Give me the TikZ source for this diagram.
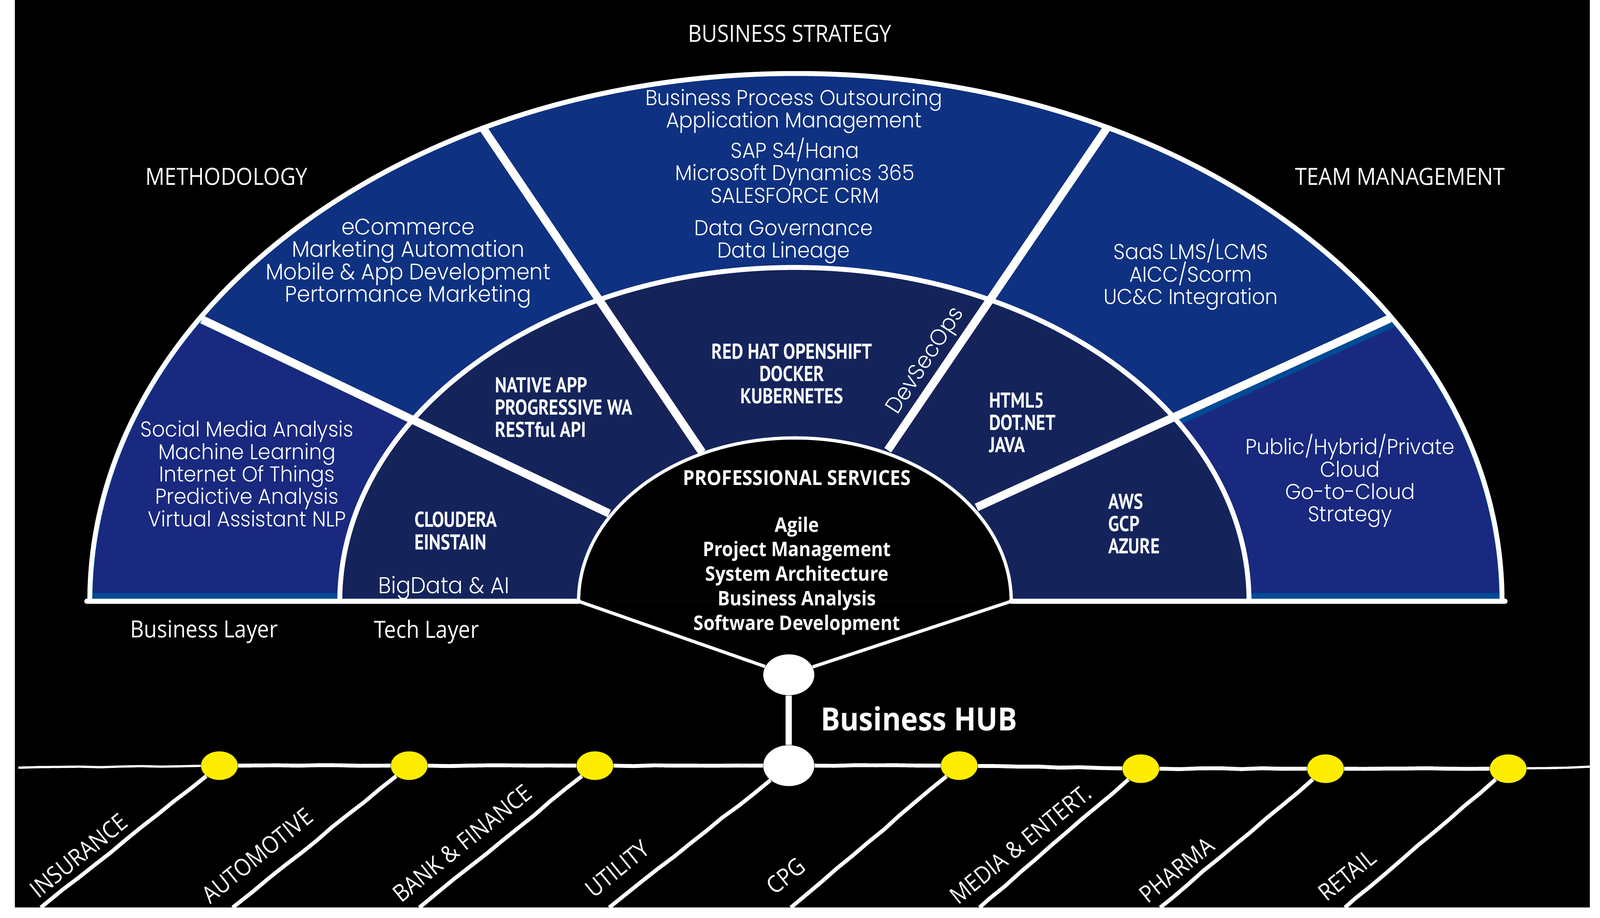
\documentclass[tikz,border=0pt]{standalone}
\usepackage{fontspec}
\usepackage{xcolor}
\usetikzlibrary{shapes.geometric, decorations.pathmorphing}
\setmainfont{Open Sans}[FakeStretch=0.9]
\newfontfamily\gothicfont{Poppins Light}[FakeStretch=0.94]
\newfontfamily\techfont{PT Sans}[FakeStretch=0.83]
\lineskiplimit=-100pt
\definecolor{strategyblue}{RGB}{14, 49, 129}
\definecolor{cornerblue}{RGB}{25, 41, 127}
\definecolor{edgeblue}{RGB}{0, 74, 150}
\definecolor{techblue}{RGB}{20, 36, 91}
\definecolor{dotyellow}{RGB}{255, 237, 0}
\tikzset{
        layerarc/.style={draw=white, line width=1.2mm},
        divider/.style={draw=white, line width=2mm},
        baseline/.style={draw=white, line width=1.2mm, line cap=round},
        fanline/.style={draw=white, line width=0.8mm},
        railline/.style={draw=white, line width=0.95mm, decorate, decoration={random steps, segment length=5mm, amplitude=0.12mm}},
        hubnode/.style={ellipse, fill=white, inner sep=0, minimum width=12.5mm, minimum height=10mm},
        dotnode/.style={ellipse, fill=dotyellow, inner sep=0, minimum width=9mm, minimum height=7mm},
        outertext/.style={white, font=\gothicfont\fontsize{15}{15.6}\selectfont, align=center},
        techtext/.style={white, inner sep=0, font=\techfont\bfseries\fontsize{15}{15.6}\selectfont, align=left},
        heading/.style={white, font=\fontsize{16.5}{20}\selectfont},
        industry/.style={white, font=\fontsize{16.5}{20}\selectfont, rotate=39},
        service/.style={white, font=\bfseries\fontsize{14}{17}\selectfont},
}

\begin{document}
\begin{tikzpicture}[x=0.25mm, y=0.25mm]
        \useasboundingbox[fill=white] (0, 0) rectangle (1568, 899);
        \fill[black] (14.5, 10) rectangle (1558, 899);
        % Business layer {{{
        \fill[strategyblue] (88, 310) arc[start angle=180, end angle=0, x radius=692, y radius=517] -- cycle;
        \begin{scope}
                \clip (60, 310) -- (60, 605) -- (158, 605) -- (500, 443) -- (500, 310) -- cycle;
                \fill[edgeblue] (88, 310) arc[start angle=180, end angle=0, x radius=692, y radius=517] -- cycle;
        \end{scope}
        \begin{scope}
                \clip (60, 318) -- (60, 600) -- (158, 600) -- (500, 438) -- (500, 318) -- cycle;
                \fill[cornerblue] (91, 310) arc[start angle=180, end angle=0, x radius=689, y radius=514] -- cycle;
        \end{scope}
        \begin{scope}
                \clip (1500, 310) -- (1500, 604) -- (1400, 604) -- (1050, 444) -- (1050, 310) -- cycle;
                \fill[edgeblue] (88, 310) arc[start angle=180, end angle=0, x radius=692, y radius=517] -- cycle;
        \end{scope}
        \begin{scope}
                \clip (1500, 318) -- (1500, 594) -- (1400, 594) -- (1050, 434) -- (1050, 318) -- cycle;
                \fill[cornerblue] (91, 310) arc[start angle=180, end angle=0, x radius=689, y radius=514] -- cycle;
        \end{scope}
        % }}}
        % Tech layer {{{
        \fill[techblue] (333, 310) arc[start angle=180, end angle=0, x radius=445.5, y radius=327] -- cycle;
        \begin{scope}
                \clip (88, 310) arc[start angle=180, end angle=0, x radius=692, y radius=517] -- cycle;
                \draw[divider] (198, 586) -- (597, 396); % Methodology
                \draw[divider] (473, 774) -- (688, 456); % Business strategy, left
                \draw[divider] (1085, 774) -- (870, 458); % Business strategy, right
                \draw[divider] (1362, 587) -- (957, 402); % Team management
        \end{scope}
        \draw[layerarc] (88, 310) arc[start angle=180, end angle=0, x radius=692, y radius=517];
        \draw[layerarc] (333, 310) arc[start angle=180, end angle=0, x radius=445.5, y radius=327];
        % }}}
        % Professional services {{{
        \fill[black] (567, 310) arc[start angle=180, end angle=0, x radius=212, y radius=160] -- cycle;
        \draw[fanline] (567, 310) arc[start angle=180, end angle=0, x radius=212, y radius=160];
        \draw[baseline] (85, 310) -- (567, 310) (991, 310) -- (1475, 310);
        % }}}
        % Hub and rail {{{
        \coordinate (fanwest) at (567, 310);
        \coordinate (faneast) at (991, 310);
        \coordinate (railwest) at (18, 147);
        \coordinate (raileast) at (1558, 148);
        \node[hubnode] (hubtop) at (773, 238) {};
        \node[hubnode] (hubrail) at (773, 149) {};
        \node[dotnode] (insurancedot) at (215, 149) {};
        \node[dotnode] (automotivedot) at (401, 149) {};
        \node[dotnode] (bankdot) at (583, 149) {};
        \node[dotnode] (cpgdot) at (940, 149) {};
        \node[dotnode] (mediadot) at (1118, 146) {};
        \node[dotnode] (pharmadot) at (1299, 146) {};
        \node[dotnode] (retaildot) at (1478, 146) {};
        \coordinate (insurancefoot) at (40, 10);
        \coordinate (automotivefoot) at (228, 10);
        \coordinate (bankfoot) at (411, 10);
        \coordinate (utilityfoot) at (597, 10);
        \coordinate (cpgfoot) at (775, 10);
        \coordinate (mediafoot) at (960, 10);
        \coordinate (pharmafoot) at (1137, 10);
        \coordinate (retailfoot) at (1318, 10);
        \draw[fanline] (fanwest) -- (hubtop) -- (faneast);
        \draw[white, line width=1.5mm] (hubtop) -- (hubrail);
        \draw[railline, line width=0.55mm] (railwest) -- (insurancedot);
        \draw[railline] (insurancedot) -- (automotivedot) -- (bankdot) -- (hubrail) -- (cpgdot) -- (mediadot) -- (pharmadot) -- (retaildot);
        \draw[railline, line width=0.55mm] (retaildot) -- (raileast);
        \draw[railline] (insurancedot) -- (insurancefoot);
        \draw[railline] (automotivedot) -- (automotivefoot);
        \draw[railline] (bankdot) -- (bankfoot);
        \draw[railline] (hubrail) -- (utilityfoot);
        \draw[railline] (cpgdot) -- (cpgfoot);
        \draw[railline] (mediadot) -- (mediafoot);
        \draw[railline] (pharmadot) -- (pharmafoot);
        \draw[railline] (retaildot) -- (retailfoot);
        % }}}
        % Labels {{{
        \node[heading] (strategylabel) at (774, 866) {BUSINESS STRATEGY};
        \node[heading] (methodlabel) at (222, 726) {METHODOLOGY};
        \node[heading] (teamlabel) at (1372, 726) {TEAM MANAGEMENT};
        \node[heading] (businesslabel) at (200, 280) {Business Layer};
        \node[heading] (techlabel) at (418, 280) {Tech Layer};
        \node[white, inner sep=0, font=\bfseries\fontsize{22.3}{26}\selectfont, anchor=west] (hublabel) at (804, 195) {Business HUB};
        \node[outertext] (processtext) at (778, 790) {Business Process Outsourcing\\Application Management};
        \node[outertext] (erptext) at (779, 732) {SAP S4/Hana\\Microsoft Dynamics 365\\SALESFORCE CRM};
        \node[outertext] (datatext) at (768, 662) {Data Governance\\Data Lineage};
        \node[outertext, font=\gothicfont\fontsize{15.7}{15.6}\selectfont] (markettext) at (400, 641) {eCommerce\\Marketing Automation\\Mobile \& App Development\\Pertormance Marketing};
        \node[outertext] (analysistext) at (242, 435) {Social Media Analysis\\Machine Learning\\Internet Of Things\\Predictive Analysis\\Virtual Assistant NLP};
        \node[outertext] (learningtext) at (1167, 630) {SaaS LMS/LCMS\\AICC/Scorm\\UC\&C Integration};
        \node[outertext] (cloudtext) at (1323, 428) {Public/Hybrid/Private\\Cloud\\Go-to-Cloud\\Strategy};
        \node[outertext, font=\gothicfont\fontsize{16}{16}\selectfont] (bigdatatext) at (435, 323) {BigData \& AI};
        \node[outertext, font=\gothicfont\fontsize{16}{16}\selectfont, rotate=57] (devsectext) at (908, 545) {DevSecOps};
        \node[techtext, align=center] (platformtext) at (776, 533) {RED HAT OPENSHIFT\\DOCKER\\KUBERNETES};
        \node[techtext, anchor=west] (apptext) at (485, 500) {NATIVE APP\\PROGRESSIVE WA\\RESTful API};
        \node[techtext, anchor=west] (clouderatext) at (406, 379) {CLOUDERA\\EINSTAIN};
        \node[techtext, anchor=west] (webtext) at (969, 485) {HTML5\\DOT.NET\\JAVA};
        \node[techtext, anchor=west] (awstext) at (1086, 386) {AWS\\GCP\\AZURE};
        \node[service, font=\bfseries\fontsize{14.4}{17}\selectfont] (servicetitle) at (781, 431) {PROFESSIONAL SERVICES};
        \node[service] (agiletext) at (781, 383) {Agile};
        \node[service] (projecttext) at (781, 359) {Project Management};
        \node[service] (systemtext) at (781, 335) {System Architecture};
        \node[service] (analysttext) at (781, 311) {Business Analysis};
        \node[service] (softwaretext) at (781, 287) {Software Development};
        \node[industry] (insurancelabel) at (77, 61) {INSURANCE};
        \node[industry] (automotivelabel) at (252, 61) {AUTOMOTIVE};
        \node[industry] (banklabel) at (453, 73) {BANK \& FINANCE};
        \node[industry] (utilitylabel) at (605, 48) {UTILITY};
        \node[industry] (cpglabel) at (770, 41) {CPG};
        \node[industry] (medialabel) at (1000, 72) {MEDIA \& ENTERT.};
        \node[industry] (pharmalabel) at (1153, 47) {PHARMA};
        \node[industry] (retaillabel) at (1320, 42) {RETAIL};
        % }}}
\end{tikzpicture}
\end{document}
